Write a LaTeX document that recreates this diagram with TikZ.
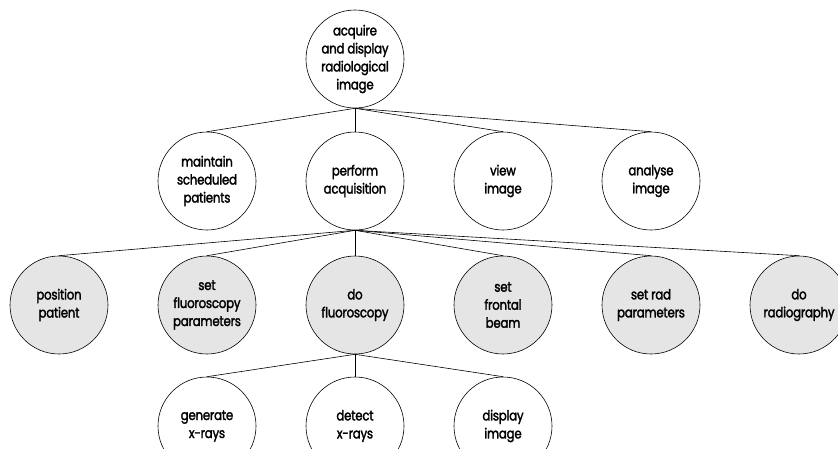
\documentclass[tikz,border=0pt]{standalone}
\usepackage{fontspec}
\setmainfont{Poppins}[FakeStretch=0.84, LetterSpace=-1.5, FakeBold=2]
\begin{document}
\begin{tikzpicture}[x=1pt,y=-1pt,
  task/.style={circle, draw=black, line width=0.6pt, minimum size=98pt, inner sep=0pt,
    align=center, font=\fontsize{14}{18}\selectfont},
  leaf/.style={task, fill=black!10},
  link/.style={draw=black, line width=0.6pt}]
\useasboundingbox (0,0) rectangle (838,448);
% root
\node[task] (root) at (355,59) {acquire\\and display\\radiological\\image};
% second level
\node[task] (maint) at (207,181) {maintain\\scheduled\\patients};
\node[task] (perf) at (355,181) {perform\\acquisition};
\node[task] (view) at (503,181) {view\\image};
\node[task] (anal) at (651,181) {analyse\\image};
% acquisition steps
\node[leaf] (pos) at (59,305) {position\\patient};
\node[leaf] (sfp) at (207,305) {set\\fluoroscopy\\parameters};
\node[leaf] (dof) at (355,305) {do\\fluoroscopy};
\node[leaf] (sfb) at (503,305) {set\\frontal\\beam};
\node[leaf] (srp) at (651,305) {set rad\\parameters};
\node[leaf] (dor) at (799,305) {do\\radiography};
% fluoroscopy steps
\node[task] (gen) at (207,426) {generate\\x-rays};
\node[task] (det) at (355,426) {detect\\x-rays};
\node[task] (disp) at (503,426) {display\\image};
% connectors
\foreach \c in {maint,perf,view,anal} \draw[link] (root.south) -- (\c.north);
\foreach \c in {pos,sfp,dof,sfb,srp,dor} \draw[link] (perf.south) -- (\c.north);
\foreach \c in {gen,det,disp} \draw[link] (dof.south) -- (\c.north);
\end{tikzpicture}
\end{document}
